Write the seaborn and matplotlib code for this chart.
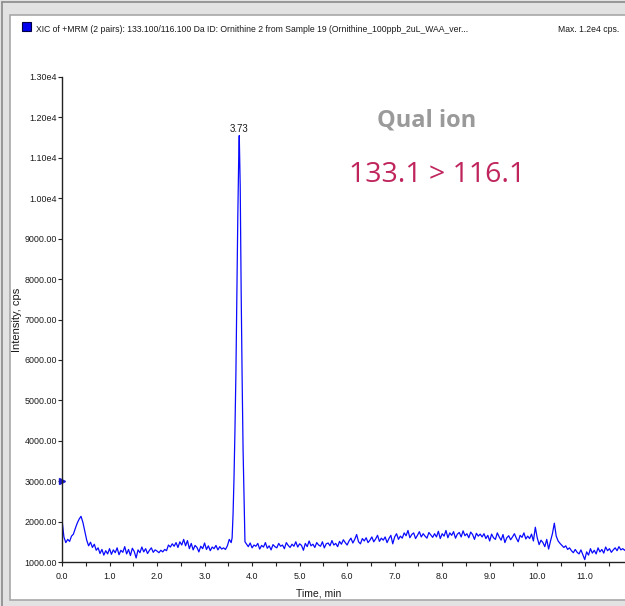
import numpy as np
import pandas as pd
import matplotlib
matplotlib.use("Agg")
import matplotlib.pyplot as plt
import matplotlib.patches as mpatches
from matplotlib.ticker import FixedLocator, FuncFormatter, MultipleLocator
import seaborn as sns

# XIC trace (cps)
# scans 0.00 .. 3.56 min, 0.04 min apart
front_start, front_step = 0.00, 0.04
front_cps = [
    2050, 1620, 1480, 1560, 1510, 1640, 1690, 1830, 1960, 2060,
    2130, 1980, 1760, 1540, 1400, 1490, 1360, 1440, 1290, 1350,
    1210, 1310, 1170, 1280, 1200, 1330, 1190, 1300, 1230, 1350,
    1180, 1290, 1240, 1380, 1200, 1310, 1160, 1340, 1260, 1100,
    1300, 1230, 1370, 1250, 1330, 1210, 1290, 1350, 1240, 1300,
    1270, 1230, 1290, 1250, 1310, 1280, 1420, 1370, 1450, 1390,
    1480, 1360, 1500, 1420, 1560, 1400, 1530, 1330, 1460, 1300,
    1410, 1360, 1250, 1390, 1330, 1470, 1310, 1400, 1280, 1370,
    1330, 1410, 1300, 1380, 1320, 1350, 1310, 1400, 1560, 1480,
]

# the peak itself
peak_min = [3.58, 3.60, 3.62, 3.64, 3.66, 3.68, 3.70, 3.72, 3.73,
            3.75, 3.77, 3.79, 3.81, 3.83, 3.85]
peak_cps = [1600, 2200, 3100, 4300, 5700, 7700, 9600, 11100, 11550,
            10300, 7700, 5600, 3800, 2600, 1500]

# scans 3.88 .. 12.00 min, 0.04 min apart
tail_start, tail_step = 3.88, 0.04
tail_cps = [
    1450, 1380, 1470, 1350, 1420, 1390, 1460, 1320, 1410, 1370, 1480, 1340, 1400,
    1300, 1430, 1380, 1350, 1460, 1390, 1420, 1330, 1480, 1410, 1360, 1440,
    1390, 1500, 1370, 1450, 1410, 1290, 1460, 1380, 1520, 1400, 1440, 1360, 1480,
    1420, 1390, 1500, 1350, 1450, 1470, 1400, 1530, 1420, 1460, 1380, 1510,
    1440, 1550, 1480, 1420, 1520, 1590, 1470, 1560, 1680, 1500, 1450, 1580, 1520,
    1600, 1480, 1540, 1620, 1500, 1570, 1660, 1510, 1590, 1540, 1620, 1480,
    1580, 1660, 1450, 1620, 1700, 1560, 1640, 1590, 1720, 1650, 1780, 1600, 1680,
    1720, 1580, 1660, 1750, 1620, 1700, 1640, 1590, 1730, 1670, 1610, 1700,
    1620, 1760, 1580, 1700, 1640, 1780, 1600, 1720, 1660, 1750, 1590, 1690, 1730,
    1620, 1770, 1650, 1700, 1600, 1740, 1680, 1560, 1710, 1640, 1690, 1620,
    1700, 1580, 1660, 1520, 1690, 1600, 1560, 1720, 1620, 1540, 1680, 1480, 1600,
    1650, 1550, 1620, 1700, 1590, 1500, 1660, 1610, 1720, 1570, 1640, 1580,
    1690, 1520, 1860, 1600, 1430, 1540, 1480, 1380, 1560, 1320, 1520, 1700, 1960,
    1640, 1520, 1460, 1410, 1360, 1400, 1310, 1350, 1280, 1230, 1310, 1240,
    1200, 1300, 1180, 1060, 1250, 1170, 1330, 1220, 1290, 1200, 1350, 1250, 1310,
    1220, 1370, 1280, 1330, 1240, 1300, 1350, 1280, 1380, 1300, 1330, 1290,
    1340, 1370, 1320, 1360,
]

peak_rt = 3.73
threshold_cps = 3000
y_ticks = list(range(1000, 13001, 1000))
x_ticks = list(range(0, 12))

title_txt = "XIC of +MRM (2 pairs): 133.100/116.100 Da ID: Ornithine 2 from Sample 19 (Ornithine_100ppb_2uL_WAA_ver..."
max_txt = "Max. 1.2e4 cps."

front_min = np.round(front_start + front_step * np.arange(len(front_cps)), 3)
tail_min = np.round(tail_start + tail_step * np.arange(len(tail_cps)), 3)
df = pd.DataFrame({
    "time": np.concatenate([front_min, peak_min, tail_min]),
    "cps": np.concatenate([front_cps, peak_cps, tail_cps]),
})

sns.set_style("white")
plt.rcParams["font.family"] = ["Liberation Sans Narrow", "Liberation Sans", "DejaVu Sans"]

W, H = 625, 606
fig = plt.figure(figsize=(W / 100, H / 100), dpi=100)
fig.patch.set_facecolor("#e2e2e2")


def fx(px):
    return px / W


def fy(py):
    return 1 - py / H


# window frame
fig.add_artist(mpatches.Rectangle((fx(10), fy(600)), fx(W - 10) + 0.01, fy(15) - fy(600),
                                  transform=fig.transFigure, facecolor="white",
                                  edgecolor="#a8a8a8", lw=1.2, zorder=0))
fig.add_artist(plt.Line2D([fx(2), fx(2)], [0, fy(2)], transform=fig.transFigure, color="#8a8a8a", lw=1.2))
fig.add_artist(plt.Line2D([fx(2), 1], [fy(2), fy(2)], transform=fig.transFigure, color="#8a8a8a", lw=1.2))
fig.add_artist(mpatches.Rectangle((fx(22), fy(31)), fx(9), fy(22) - fy(31),
                                  transform=fig.transFigure, facecolor="#0000ee",
                                  edgecolor="#000044", lw=0.8))
fig.text(fx(36), fy(29), title_txt, fontsize=6.2, color="#1a1a1a", va="center", ha="left")
fig.text(fx(558), fy(29), max_txt, fontsize=6.2, color="#1a1a1a", va="center", ha="left")

ax = fig.add_axes([fx(62), fy(562), 1 - fx(62) + 0.01, fy(77) - fy(562)])
ax.set_facecolor("none")
sns.lineplot(data=df, x="time", y="cps", ax=ax, color="#0a0aff", lw=0.9,
             estimator=None, sort=True)

ax.set_xlim(0, (W - 62) / 47.0)
ax.set_ylim(1000, 13000)
sns.despine(ax=ax, top=True, right=True)
for s in ("left", "bottom"):
    ax.spines[s].set_color("#222222")
    ax.spines[s].set_linewidth(1.0)

ax.yaxis.set_major_locator(FixedLocator(y_ticks))
ax.yaxis.set_major_formatter(FuncFormatter(
    lambda v, p: f"{v / 1e4:.2f}e4" if v >= 10000 else f"{v:.2f}"))
ax.xaxis.set_major_locator(FixedLocator(x_ticks))
ax.xaxis.set_minor_locator(MultipleLocator(0.5))
ax.xaxis.set_major_formatter(FuncFormatter(lambda v, p: f"{v:.1f}"))
ax.tick_params(axis="both", which="both", direction="out", length=3, width=0.8,
               color="#222222", labelsize=6.4, labelcolor="#1a1a1a",
               left=True, bottom=True)
ax.tick_params(axis="y", pad=0.5)
ax.tick_params(axis="x", pad=4)

ax.set_xlabel("Time, min", fontsize=7.5, color="#1a1a1a")
ax.xaxis.set_label_coords((320 - 62) / 573, -26 / 485)
ax.set_ylabel("Intensity, cps", fontsize=8, color="#1a1a1a",
              family=["Liberation Sans", "DejaVu Sans"])
ax.yaxis.set_label_coords((22 - 62) / 573, 0.5)

# peak apex label and threshold marker
apex = df.loc[df["cps"].idxmax()]
ax.annotate(f"{peak_rt:.2f}", (apex["time"], apex["cps"]), xytext=(0, 1.5),
            textcoords="offset points", ha="center", va="bottom", fontsize=7,
            color="#1a1a1a")
ax.plot([0], [threshold_cps], marker=">", ms=5, color="#1a1acc", clip_on=False)

fig.text(fx(427), fy(121), "Qual ion", fontsize=17, color="#9a9a9a",
         fontweight="bold", ha="center", va="center",
         family=["Open Sans", "DejaVu Sans"])
fig.text(fx(437), fy(175), "133.1 > 116.1", fontsize=20.5, color="#c0245c",
         ha="center", va="center", family=["Open Sans", "DejaVu Sans"])

fig.savefig("out.png", dpi=100, facecolor=fig.get_facecolor())
